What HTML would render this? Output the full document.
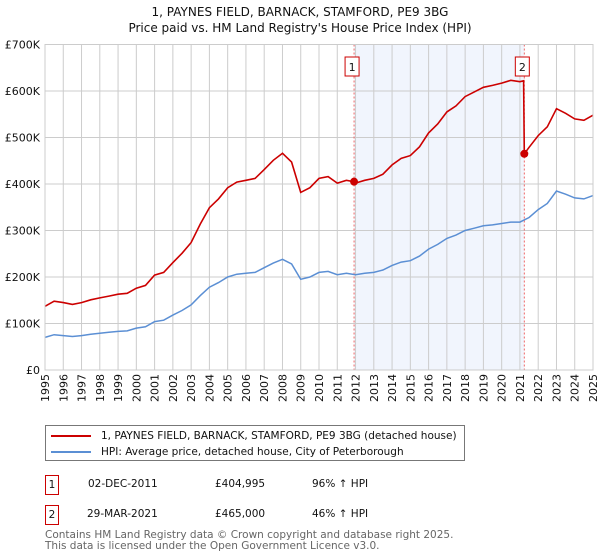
<!DOCTYPE html>
<html><head><meta charset="utf-8"><style>
body{margin:0;background:#fff;font-family:"DejaVu Sans","Liberation Sans",sans-serif;}
#wrap{position:relative;width:600px;height:560px;overflow:hidden}
</style></head><body>
<div id="wrap">
<svg id="chart" width="600" height="420" style="position:absolute;left:0;top:0"></svg>
<div style="position:absolute;left:45px;top:425px;width:418px;height:34px;border:1px solid #777;font-size:10.5px;color:#111">
 <div style="position:absolute;left:5px;top:4px;white-space:nowrap"><span style="display:inline-block;width:40px;height:2px;background:#cc0000;vertical-align:middle;margin-right:10px"></span>1, PAYNES FIELD, BARNACK, STAMFORD, PE9 3BG (detached house)</div>
 <div style="position:absolute;left:5px;top:20px;white-space:nowrap"><span style="display:inline-block;width:40px;height:2px;background:#5b8fd4;vertical-align:middle;margin-right:10px"></span>HPI: Average price, detached house, City of Peterborough</div>
</div>
<div style="position:absolute;left:45px;top:475px;font-size:10.5px;color:#111;height:20px;width:400px">
 <span style="position:absolute;left:0;top:0;width:12px;height:18px;border:1px solid #cc0000;text-align:center;line-height:18px">1</span>
 <span style="position:absolute;left:43px;top:3px">02-DEC-2011</span>
 <span style="position:absolute;left:170px;top:3px">£404,995</span>
 <span style="position:absolute;left:267px;top:3px">96% ↑ HPI</span>
</div>
<div style="position:absolute;left:45px;top:505px;font-size:10.5px;color:#111;height:20px;width:400px">
 <span style="position:absolute;left:0;top:0;width:12px;height:18px;border:1px solid #cc0000;text-align:center;line-height:18px">2</span>
 <span style="position:absolute;left:42px;top:3px">29-MAR-2021</span>
 <span style="position:absolute;left:170px;top:3px">£465,000</span>
 <span style="position:absolute;left:267px;top:3px">46% ↑ HPI</span>
</div>
<div style="position:absolute;left:45px;top:530px;font-size:10.5px;color:#666;line-height:10.5px">Contains HM Land Registry data © Crown copyright and database right 2025.<br>This data is licensed under the Open Government Licence v3.0.</div>
</div>
<script>
const hpiYears=[1995,1995.5,1996,1996.5,1997,1997.5,1998,1998.5,1999,1999.5,2000,2000.5,2001,2001.5,2002,2002.5,2003,2003.5,2004,2004.5,2005,2005.5,2006,2006.5,2007,2007.5,2008,2008.5,2009,2009.5,2010,2010.5,2011,2011.5,2012,2012.5,2013,2013.5,2014,2014.5,2015,2015.5,2016,2016.5,2017,2017.5,2018,2018.5,2019,2019.5,2020,2020.5,2021,2021.5,2022,2022.5,2023,2023.5,2024,2024.5,2025];
const hpiValues=[70,76,74,72,74,77,79,81,83,84,90,93,104,107,118,128,140,160,178,188,200,206,208,210,220,230,238,228,195,200,210,212,205,208,205,208,210,215,225,232,235,245,260,270,283,290,300,305,310,312,315,318,318,328,345,358,385,378,370,368,375];
const propYears=[1995,1995.5,1996,1996.5,1997,1997.5,1998,1998.5,1999,1999.5,2000,2000.5,2001,2001.5,2002,2002.5,2003,2003.5,2004,2004.5,2005,2005.5,2006,2006.5,2007,2007.5,2008,2008.5,2009,2009.5,2010,2010.5,2011,2011.5,2011.92,2012,2012.5,2013,2013.5,2014,2014.5,2015,2015.5,2016,2016.5,2017,2017.5,2018,2018.5,2019,2019.5,2020,2020.5,2021,2021.2,2021.24,2021.5,2022,2022.5,2023,2023.5,2024,2024.5,2025];
const propValues=[137,148,145,141,145,151,155,159,163,165,176,182,204,210,231,251,274,314,349,368,392,404,408,412,431,451,466,447,382,392,412,416,402,408,405,402,408,412,421,441,455,461,480,510,529,555,568,588,598,608,612,617,623,620,622,465,479,504,523,562,552,540,537,548];
const saleYears=[2011.92,2021.24];
const saleValues=[404.995,465];
const saleLabels=["1","2"];
const yTicks=[0,100,200,300,400,500,600,700];
const yTickLabels=["£0","£100K","£200K","£300K","£400K","£500K","£600K","£700K"];
const xTicks=[1995,1996,1997,1998,1999,2000,2001,2002,2003,2004,2005,2006,2007,2008,2009,2010,2011,2012,2013,2014,2015,2016,2017,2018,2019,2020,2021,2022,2023,2024,2025];

const NS="http://www.w3.org/2000/svg";
const svg=document.getElementById('chart');
const X0=45,X1=593,Y0=370,Y1=44.5;
const xs=y=>X0+(y-1995)/30*(X1-X0);
const ys=v=>Y0-v/700*(Y0-Y1);
function mk(tag,attrs,parent){const e=document.createElementNS(NS,tag);for(const k in attrs)e.setAttribute(k,attrs[k]);(parent||svg).appendChild(e);return e;}
let t=mk('text',{x:300,y:16,'text-anchor':'middle','font-size':12,fill:'#111'});t.textContent="1, PAYNES FIELD, BARNACK, STAMFORD, PE9 3BG";


t=mk('text',{x:300,y:32,'text-anchor':'middle','font-size':12,fill:'#111'});t.textContent="Price paid vs. HM Land Registry's House Price Index (HPI)";


let sh=mk('rect',{x:xs(saleYears[0]),y:Y1,width:xs(saleYears[1])-xs(saleYears[0]),height:Y0-Y1,fill:'#eef2fc',opacity:0.8});


xTicks.forEach(yr=>{const l=mk('line',{x1:xs(yr),x2:xs(yr),y1:Y1,y2:Y0,stroke:'#cccccc','stroke-width':1});


const tx=mk('text',{transform:`translate(${xs(yr)+4},${Y0+4}) rotate(-90)`,'text-anchor':'end','font-size':11,fill:'#111'});tx.textContent=yr;

});
yTicks.forEach((v,i)=>{const l=mk('line',{x1:X0,x2:X1,y1:ys(v),y2:ys(v),stroke:'#cccccc','stroke-width':1});


const tx=mk('text',{x:X0-5,y:ys(v)+4,'text-anchor':'end','font-size':11,fill:'#111'});tx.textContent=yTickLabels[i];

});
saleYears.forEach((yr,i)=>{const l=mk('line',{x1:xs(yr),x2:xs(yr),y1:Y1,y2:Y0,stroke:'#ee6666','stroke-width':1,'stroke-dasharray':'2,2'});


const r=mk('rect',{x:xs(yr)-9,y:57,width:14,height:19,fill:'#fff',stroke:'#cc0000'});


const tx=mk('text',{x:xs(yr)-2,y:71,'text-anchor':'middle','font-size':11,fill:'#111'});tx.textContent=saleLabels[i];

});
const pts=(xa,va)=>xa.map((yr,i)=>xs(yr).toFixed(1)+','+ys(va[i]).toFixed(1)).join(' ');
let p=mk('polyline',{points:pts(hpiYears,hpiValues),fill:'none',stroke:'#5b8fd4','stroke-width':1.5});


p=mk('polyline',{points:pts(propYears,propValues),fill:'none',stroke:'#cc0000','stroke-width':1.6});


saleYears.forEach((yr,i)=>{const c=mk('circle',{cx:xs(yr),cy:ys(saleValues[i]),r:4,fill:'#cc0000'});

});
const b=mk('rect',{x:X0,y:Y1,width:X1-X0,height:Y0-Y1,fill:'none',stroke:'#cccccc'});


</script>
</body></html>
